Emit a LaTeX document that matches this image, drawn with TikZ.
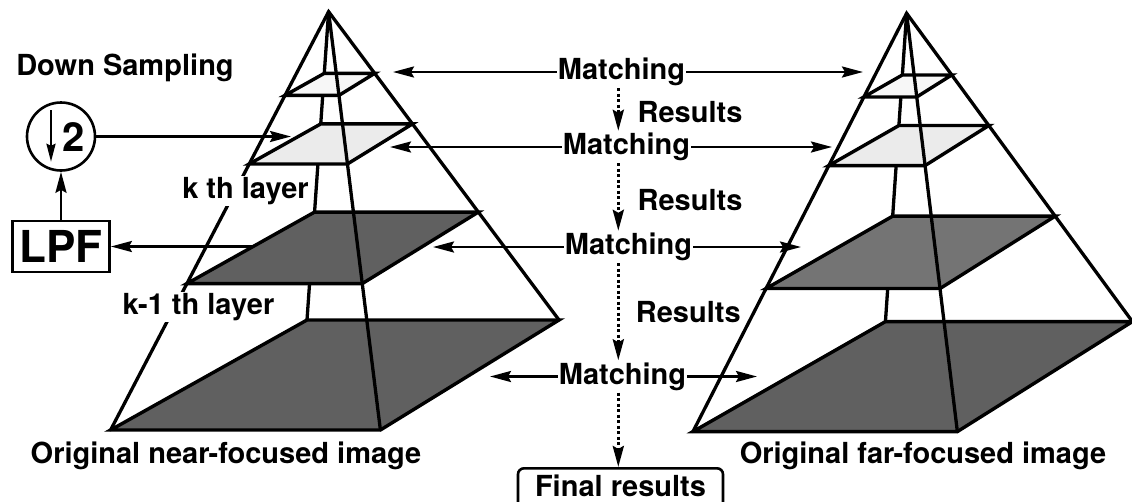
\documentclass[tikz,border=0pt]{standalone}
\usepackage{fontspec}
\setmainfont{TeX Gyre Heros}
\usetikzlibrary{arrows.meta, positioning}
\definecolor{shadedark}{HTML}{606060}
\definecolor{shademid}{HTML}{747474}
\definecolor{shadelight}{HTML}{EBEBEB}
\definecolor{shadepale}{HTML}{F7F7F7}

\begin{document}
\begin{tikzpicture}[x=1pt, y=-1pt,
    edge/.style={line width=3.3pt, line cap=round},
    layer/.style={line width=3.4pt},
    lbl/.style={font=\fontsize{29}{32}\selectfont\bfseries, inner xsep=1pt, inner ysep=2pt},
    arr/.style={-{Stealth[length=21pt, width=11pt, inset=3pt]}, line width=2.6pt},
    dotarr/.style={-{Stealth[length=21pt, width=11pt, inset=3pt]}, line width=3.2pt, dash pattern=on 3pt off 2.5pt}]

  \useasboundingbox (0,0) rectangle (1132,501);

  % Near-focused pyramid
  \begin{scope}[shift={(328.6,11.7)}]
    \draw[edge] (0,0) -- (-21.6,308.3);
    \foreach \s/\shade in {0.2/shadepale, 0.364/shadelight, 0.65/shadedark, 1/shadedark}
      \draw[layer, fill=\shade] (-218*\s,418.3*\s) -- (51.8*\s,418.3*\s) -- (230.4*\s,308.3*\s) -- (-21.6*\s,308.3*\s) -- cycle;
    \draw[edge] (-218,418.3) -- (0,0) -- (230.4,308.3);
    \draw[edge] (0,0) -- (51.8,418.3);
  \end{scope}

  % Far-focused pyramid
  \begin{scope}[shift={(906.6,13.3)}, xscale=0.98]
    \draw[edge] (0,0) -- (-21.6,308.3);
    \foreach \s/\shade in {0.2/shadepale, 0.364/shadelight, 0.658/shademid, 1/shadedark}
      \draw[layer, fill=\shade] (-218*\s,418.3*\s) -- (51.8*\s,418.3*\s) -- (230.4*\s,308.3*\s) -- (-21.6*\s,308.3*\s) -- cycle;
    \draw[edge] (-218,418.3) -- (0,0) -- (230.4,308.3);
    \draw[edge] (0,0) -- (51.8,418.3);
  \end{scope}

  % Layer labels and captions
  \node[lbl, fill=white, inner sep=1pt] (kth) at (245.5,191) {k th layer};
  \node[lbl, fill=white, inner sep=1pt] (kmth) at (198.5,307) {k-1 th layer};
  \node[lbl] (near) at (226,456) {Original near-focused image};
  \node[lbl] (far) at (923,456) {Original far-focused image};

  % Down sampling and LPF
  \node[lbl] (dstitle) at (125,68) {Down Sampling};
  \node[circle, draw, line width=2.6pt, minimum size=68pt, inner sep=0pt] (ds) at (61,136.5) {};
  \node[font=\fontsize{40}{42}\selectfont\bfseries, inner sep=0pt] (two) at (74,137) {2};
  \draw[-{Stealth[length=18pt, width=9pt, inset=2pt]}, line width=2.4pt]
    ([xshift=-10pt, yshift=-9pt]ds.north) -- ([xshift=-10pt, yshift=10pt]ds.south);
  \node[draw, line width=2.8pt, minimum width=97pt, minimum height=51pt, inner sep=0pt,
        font=\fontsize{44}{46}\selectfont\bfseries] (lpf) at (61,246.5) {LPF};

  % Matching steps
  \node[lbl] (m1) at (621.5,72) {Matching};
  \node[lbl] (m2) at (626.5,147) {Matching};
  \node[lbl] (m3) at (628.5,247) {Matching};
  \node[lbl] (m4) at (622.5,376.5) {Matching};
  \node[lbl] (r1) at (690,111.7) {Results};
  \node[lbl] (r2) at (690,200) {Results};
  \node[lbl] (r3) at (688.3,311.7) {Results};
  \node[draw, rounded corners=6pt, line width=2.6pt, minimum width=205pt, minimum height=40pt,
        anchor=north] (finalbox) at (620.5,467) {};
  \node[lbl] (final) at (620.5,486) {Final results};

  % Arrow ends on the pyramids
  \coordinate (l1) at (393,72);    \coordinate (f1) at (863,72);
  \coordinate (l2) at (390,147);   \coordinate (f2) at (832,147);
  \coordinate (l3) at (433,247);   \coordinate (f3) at (801,247);
  \coordinate (l4) at (490,376.5); \coordinate (f4) at (757,376.5);
  \coordinate (lpfin) at (254,246.5);
  \coordinate (dsout) at (291,136.5);
  \coordinate (col) at (618.3,0);

  \foreach \i in {1,...,4} {
    \draw[arr] (m\i.west) -- (l\i);
    \draw[arr] (m\i.east) -- (f\i);
  }
  \draw[arr] (lpfin) -- (lpf.east);
  \draw[arr] (lpf.north) -- (ds.south);
  \draw[arr] (ds.east) -- (dsout);

  % Results passed downwards
  \draw[dotarr] (col |- m1.south) -- (col |- m2.north);
  \draw[dotarr] (col |- m2.south) -- (col |- m3.north);
  \draw[dotarr] (col |- m3.south) -- (col |- m4.north);
  \draw[dotarr] (col |- m4.south) -- (col |- finalbox.north);
\end{tikzpicture}
\end{document}
